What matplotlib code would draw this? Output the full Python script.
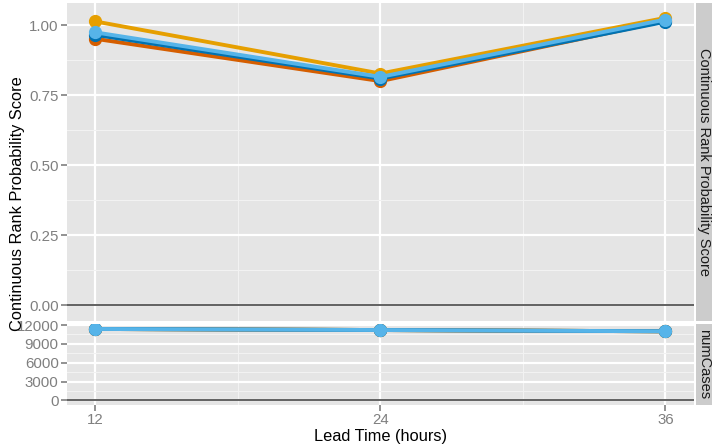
import numpy as np
import matplotlib
matplotlib.use('Agg')
import matplotlib.pyplot as plt

plt.rcParams['font.family'] = ['Liberation Sans', 'DejaVu Sans']

lead_time = [12, 24, 36]
# crps per series (drawing order: light blue ends on top)
crps_orange = [1.013, 0.827, 1.026]
crps_vermillion = [0.951, 0.800, 1.015]
crps_blue = [0.965, 0.809, 1.012]
crps_skyblue = [0.974, 0.815, 1.020]
cases_orange = [11370, 11200, 11000]
cases_vermillion = [11370, 11200, 11000]
cases_blue = [11370, 11200, 11000]
cases_skyblue = [11370, 11200, 11000]

colors = ['#E69F00', '#D55E00', '#0072B2', '#56B4E9']
top_series = [crps_orange, crps_vermillion, crps_blue, crps_skyblue]
bot_series = [cases_orange, cases_vermillion, cases_blue, cases_skyblue]

W, H = 712, 446
fig = plt.figure(figsize=(W / 100, H / 100), dpi=100)

def box(x0, y0, x1, y1):
    # pixel box (top-left origin) -> figure fraction
    return [x0 / W, 1 - y1 / H, (x1 - x0) / W, (y1 - y0) / H]

ax1 = fig.add_axes(box(67, 3, 694, 321))
ax2 = fig.add_axes(box(67, 324, 694, 405))

tick_col = '#7F7F7F'
for ax in (ax1, ax2):
    ax.set_facecolor('#E5E5E5')
    for s in ax.spines.values():
        s.set_visible(False)
    ax.set_xlim(10.8, 37.2)
    ax.set_xticks(lead_time)
    ax.set_xticks([18, 30], minor=True)
    ax.grid(which='major', color='white', linewidth=1.6, zorder=0)
    ax.grid(which='minor', color='#F2F2F2', linewidth=0.8, zorder=0)
    ax.set_axisbelow(True)
    ax.tick_params(which='major', colors=tick_col, labelcolor=tick_col,
                   labelsize=10.8, length=4, width=1.2, pad=2)
    ax.tick_params(which='minor', length=0)
    ax.axhline(0, color='#555555', linewidth=1.3, zorder=1)

for vals, c in zip(top_series, colors):
    ax1.plot(lead_time, vals, color=c, linewidth=2.8, marker='o',
             markersize=8.5, zorder=3)
for vals, c in zip(bot_series, colors):
    ax2.plot(lead_time, vals, color=c, linewidth=2.8, marker='o',
             markersize=8.5, zorder=3)

ax1.set_ylim(-0.057, 1.079)
ax1.set_yticks([0, 0.25, 0.5, 0.75, 1.0])
ax1.set_yticklabels(['0.00', '0.25', '0.50', '0.75', '1.00'])
ax1.set_yticks([0.125, 0.375, 0.625, 0.875], minor=True)
ax1.tick_params(axis='x', which='both', length=0, labelbottom=False)

ax2.set_ylim(-740, 12160)
ax2.set_yticks([0, 3000, 6000, 9000, 12000])
ax2.set_yticks([1500, 4500, 7500, 10500], minor=True)

# facet strips
s1 = fig.add_axes(box(695.5, 3, 712, 321))
s2 = fig.add_axes(box(695.5, 324, 712, 405))
for s, label in ((s1, 'Continuous Rank Probability Score'), (s2, 'numCases')):
    s.set_facecolor('#CCCCCC')
    s.set_xticks([])
    s.set_yticks([])
    for sp in s.spines.values():
        sp.set_visible(False)
    s.text(0.5, 0.5, label, rotation=270, ha='center', va='center',
           fontsize=10.5, color='#1A1A1A', transform=s.transAxes)

fig.text(18 / W, 1 - 204 / H, 'Continuous Rank Probability Score', rotation=90,
         ha='center', va='center', fontsize=11.8, color='black')
fig.text(380 / W, 1 - 437 / H, 'Lead Time (hours)', ha='center', va='center',
         fontsize=11.8, color='black')

fig.savefig('out.png', dpi=100)
